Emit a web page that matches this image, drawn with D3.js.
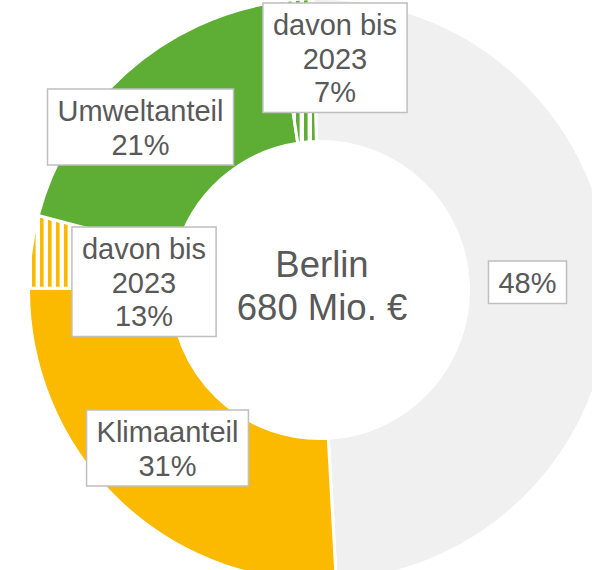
<!DOCTYPE html>
<html>
<head>
<meta charset="utf-8">
<script src="https://cdn.jsdelivr.net/npm/d3@7/dist/d3.min.js"></script>
<style>
  html, body { margin: 0; padding: 0; background: #ffffff; }
  svg { display: block; }
</style>
</head>
<body>
<svg id="chart" width="592" height="570"></svg>
<script>
// ---- data ----
const categories = ["Übrige", "Klimaanteil", "Klimaanteil davon bis 2023", "Umweltanteil", "Umweltanteil davon bis 2023"];
const shares = [49.5, 26, 4, 18.5, 2];          // share of the ring as drawn
const hatched = [false, false, true, false, true];
const colorNames = ["gray", "yellow", "yellow", "green", "green"];
const labelLines = [
  ["48%"],
  ["Klimaanteil", "31%"],
  ["davon bis", "2023", "13%"],
  ["Umweltanteil", "21%"],
  ["davon bis", "2023", "7%"]
];
const centerLines = ["Berlin", "680 Mio. €"];

// ---- styling / layout ----
const palette = { gray: "#EFF0EF", yellow: "#FBBA00", green: "#5EAD35" };
const W = 592, H = 570;
const cx = 320, cy = 290;
const rOuter = 291.5, rInner = 148.5;
const font = "'Liberation Sans', Arial, Helvetica, sans-serif";
const textColor = "#595959";
// label box anchors: centre x and top y
const labelPos = [
  { x: 527.5, top: 261 },
  { x: 167.5, top: 410 },
  { x: 144,   top: 227 },
  { x: 140.5, top: 89 },
  { x: 335,   top: 3 }
];

const svg = d3.select("#chart");
const defs = svg.append("defs");
["yellow", "green"].forEach(name => {
  const p = defs.append("pattern")
    .attr("id", "hatch-" + name)
    .attr("patternUnits", "userSpaceOnUse")
    .attr("width", 8).attr("height", 8);
  p.append("rect").attr("width", 8).attr("height", 8).attr("fill", "#ffffff");
  p.append("rect").attr("x", 0).attr("width", 3.6).attr("height", 8).attr("fill", palette[name]);
});

const data = categories.map((c, i) => ({
  category: c, value: shares[i], hatched: hatched[i], color: colorNames[i]
}));

const deg = Math.PI / 180;
const start = -1.4 * deg;
const pie = d3.pie().sort(null).value(d => d.value)
  .startAngle(start).endAngle(start + 2 * Math.PI);
const arc = d3.arc().innerRadius(rInner).outerRadius(rOuter);

const ring = svg.append("g").attr("transform", `translate(${cx},${cy})`);
// patterns are in user space: offset pattern so stripes align with page x
defs.selectAll("pattern").attr("patternTransform", `translate(${-cx % 8 + 8},0)`);

ring.selectAll("path")
  .data(pie(data))
  .join("path")
  .attr("d", arc)
  .attr("fill", d => d.data.hatched ? `url(#hatch-${d.data.color})` : palette[d.data.color])
  .attr("stroke", "#ffffff")
  .attr("stroke-width", 3)
  .attr("stroke-linejoin", "miter");

// centre text
const ct = svg.append("text")
  .attr("x", 322).attr("y", 277)
  .attr("text-anchor", "middle")
  .attr("font-family", font)
  .attr("font-size", 36.5)
  .attr("fill", textColor);
centerLines.forEach((t, i) => {
  ct.append("tspan").attr("x", 322).attr("y", 277 + i * 43).text(t);
});

// label boxes
const fs = 29, lh = 33.5;
const lg = svg.append("g");
labelLines.forEach((lines, i) => {
  const pos = labelPos[i];
  const g = lg.append("g");
  const rect = g.append("rect");
  const txt = g.append("text")
    .attr("text-anchor", "middle")
    .attr("font-family", font)
    .attr("font-size", fs)
    .attr("fill", textColor);
  lines.forEach((t, j) => {
    txt.append("tspan").attr("x", pos.x).attr("y", pos.top + 32 + j * lh).text(t);
  });
  const bb = txt.node().getBBox();
  const w = bb.width + 20;
  const h = lines.length * lh + 9;
  rect.attr("x", pos.x - w / 2).attr("y", pos.top)
    .attr("width", w).attr("height", h)
    .attr("fill", "#ffffff")
    .attr("stroke", "#BFBFBF")
    .attr("stroke-width", 1.5);
});
</script>
</body>
</html>
